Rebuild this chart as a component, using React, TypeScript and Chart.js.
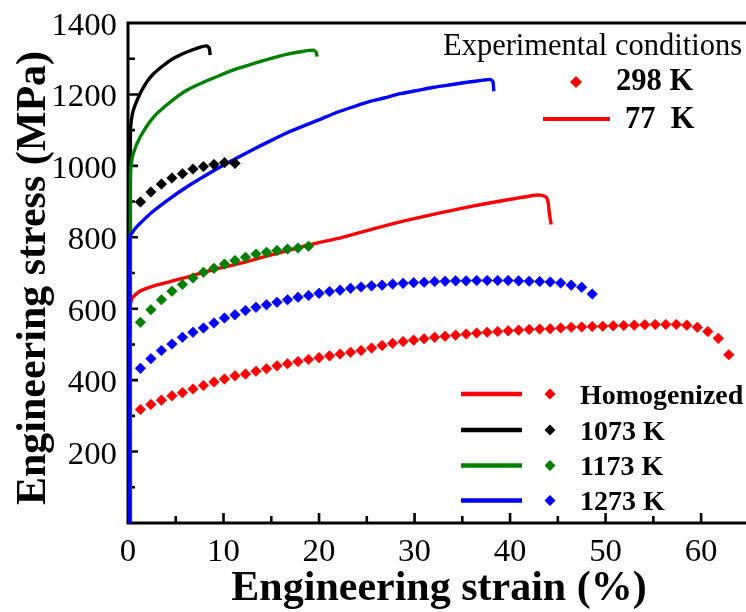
import React, { useEffect, useRef } from 'react';
import { Chart, registerables } from 'chart.js';
Chart.register(...registerables);

const W = 746;
const H = 612;

// ---- 298 K (diamonds) ----
const homoStrain = [1.3, 2.4, 3.5, 4.6, 5.7, 6.8, 7.9, 9.0, 10.1, 11.2, 12.3, 13.4, 14.5, 15.6, 16.7, 17.8, 18.9, 20.0, 21.1, 22.2, 23.3, 24.4, 25.5, 26.6, 27.7, 28.8, 29.9, 31.0, 32.1, 33.2, 34.3, 35.4, 36.5, 37.6, 38.7, 39.8, 40.9, 42.0, 43.1, 44.2, 45.3, 46.4, 47.5, 48.6, 49.7, 50.8, 51.9, 53.0, 54.1, 55.2, 56.3, 57.4, 58.5, 59.6, 60.7, 61.8, 62.9];
const homoStress = [318, 332, 344, 356, 365, 375, 385, 395, 403, 412, 417, 425, 432, 440, 446, 452, 458, 463, 468, 473, 478, 483, 490, 497, 503, 508, 512, 516, 520, 523, 526, 529, 532, 534, 536, 538, 540, 542, 543, 544, 546, 548, 549, 550, 551, 552, 553, 554, 555, 556, 556, 556, 554, 548, 536, 517, 471];

const k1073Strain = [1.3, 2.4, 3.5, 4.6, 5.7, 6.8, 7.9, 9.0, 10.1, 11.2];
const k1073Stress = [899, 927, 949, 966, 978, 991, 998, 1004, 1009, 1007];

const k1173Strain = [1.3, 2.4, 3.5, 4.6, 5.7, 6.8, 7.9, 9.0, 10.1, 11.2, 12.3, 13.4, 14.5, 15.6, 16.7, 17.8, 18.9];
const k1173Stress = [562, 597, 625, 649, 668, 686, 702, 713, 725, 735, 744, 753, 758, 763, 767, 770, 775];

const k1273Strain = [1.3, 2.4, 3.5, 4.6, 5.7, 6.8, 7.9, 9.0, 10.1, 11.2, 12.3, 13.4, 14.5, 15.6, 16.7, 17.8, 18.9, 20.0, 21.1, 22.2, 23.3, 24.4, 25.5, 26.6, 27.7, 28.8, 29.9, 31.0, 32.1, 33.2, 34.3, 35.4, 36.5, 37.6, 38.7, 39.8, 40.9, 42.0, 43.1, 44.2, 45.3, 46.4, 47.5, 48.6];
const k1273Stress = [433, 460, 483, 501, 520, 534, 546, 560, 574, 583, 595, 604, 611, 618, 625, 632, 637, 643, 648, 652, 657, 661, 664, 666, 669, 671, 673, 674, 676, 677, 678, 678, 679, 679, 679, 679, 678, 677, 676, 675, 672, 666, 660, 641];

// ---- 77 K (lines) ----
const homoLineStrain = [0.2, 0.2, 0.4, 0.8, 1.3, 2.7, 4.4, 6.1, 7.9, 9.6, 11.4, 13.1, 14.9, 16.6, 18.4, 20.1, 21.9, 25.3, 28.8, 32.3, 35.8, 39.3, 42.4, 43.2, 43.8, 44.0, 44.1, 44.3];
const homoLineStress = [0, 600, 628, 640, 650, 664, 676, 688, 702, 714, 725, 737, 750, 762, 775, 786, 796, 821, 845, 866, 886, 903, 917, 918, 912, 895, 870, 836];

const k1073LineStrain = [0.25, 0.25, 0.3, 0.55, 1.26, 1.95, 2.65, 3.7, 4.7, 6.1, 7.5, 8.2, 8.5, 8.6];
const k1073LineStress = [0, 1080, 1115, 1155, 1202, 1234, 1257, 1281, 1300, 1318, 1332, 1336, 1330, 1310];

const k1173LineStrain = [0.25, 0.25, 0.3, 0.55, 1.26, 2.65, 4.4, 6.1, 7.9, 9.6, 11.4, 13.1, 14.9, 16.6, 18.4, 19.4, 19.7, 19.8];
const k1173LineStress = [0, 950, 995, 1034, 1080, 1136, 1178, 1211, 1234, 1253, 1272, 1286, 1300, 1312, 1321, 1324, 1318, 1306];

const k1273LineStrain = [0.18, 0.18, 0.5, 0.8, 1.3, 2.6, 4.2, 6.1, 7.8, 9.6, 11.4, 13.1, 14.9, 16.6, 18.4, 20.1, 21.5, 23.2, 25.0, 26.8, 28.5, 30.3, 32.0, 33.8, 35.5, 37.2, 37.9, 38.2, 38.3];
const k1273LineStress = [0, 800, 815, 826, 840, 872, 905, 940, 968, 996, 1022, 1046, 1070, 1092, 1112, 1130, 1146, 1162, 1178, 1190, 1202, 1211, 1220, 1227, 1234, 1240, 1242, 1236, 1209];

// ---- axes ----
const xTickLabels = [0, 10, 20, 30, 40, 50, 60];
const xMinorTicks = [5, 15, 25, 35, 45, 55];
const yTickLabels = [200, 400, 600, 800, 1000, 1200, 1400];
const yMinorTicks = [100, 300, 500, 700, 900, 1100, 1300];

const legendNames = ['Homogenized', '1073 K', '1173 K', '1273 K'];
const legendColors = ['#ff0000', '#000000', '#008000', '#0000ff'];

const SERIF = '"Liberation Serif", "Times New Roman", serif';

function pts(xs: number[], ys: number[]) {
  return xs.map((x, i) => ({ x, y: ys[i] }));
}

function diamond(ctx: CanvasRenderingContext2D, x: number, y: number, r: number, color: string) {
  ctx.beginPath();
  ctx.moveTo(x - r, y);
  ctx.lineTo(x, y - r);
  ctx.lineTo(x + r, y);
  ctx.lineTo(x, y + r);
  ctx.closePath();
  ctx.fillStyle = color;
  ctx.fill();
}

function stretchedText(ctx: CanvasRenderingContext2D, text: string, x: number, y: number, sx: number) {
  ctx.save();
  ctx.translate(x, y);
  ctx.scale(sx, 1);
  ctx.fillText(text, 0, 0);
  ctx.restore();
}

const decorPlugin = {
  id: 'decor',
  beforeDatasetsDraw(chart: any) {
    const { ctx, chartArea: a, scales } = chart;
    const xs = scales.x;
    const ys = scales.y;
    ctx.save();
    ctx.strokeStyle = '#000';
    ctx.lineWidth = 3;
    ctx.beginPath();
    ctx.moveTo(a.left - 1.5, a.top);
    ctx.lineTo(W, a.top);
    ctx.moveTo(a.left, a.top);
    ctx.lineTo(a.left, a.bottom);
    ctx.moveTo(a.left - 1.5, a.bottom);
    ctx.lineTo(W, a.bottom);
    ctx.stroke();
    ctx.lineWidth = 2.6;
    ctx.beginPath();
    xTickLabels.forEach((v) => {
      if (v === 0) return;
      const p = xs.getPixelForValue(v);
      ctx.moveTo(p, a.bottom);
      ctx.lineTo(p, a.bottom - 10);
    });
    xMinorTicks.forEach((v) => {
      const p = xs.getPixelForValue(v);
      ctx.moveTo(p, a.bottom);
      ctx.lineTo(p, a.bottom - 7);
    });
    yTickLabels.forEach((v) => {
      if (v === 1400) return;
      const p = ys.getPixelForValue(v);
      ctx.moveTo(a.left, p);
      ctx.lineTo(a.left + 10, p);
    });
    yMinorTicks.forEach((v) => {
      const p = ys.getPixelForValue(v);
      ctx.moveTo(a.left, p);
      ctx.lineTo(a.left + 7, p);
    });
    ctx.stroke();

    // tick labels
    ctx.fillStyle = '#000';
    ctx.font = `31px ${SERIF}`;
    ctx.textBaseline = 'alphabetic';
    ctx.textAlign = 'center';
    xTickLabels.forEach((v) => {
      stretchedText(ctx, String(v), xs.getPixelForValue(v), a.bottom + 38, 1.06);
    });
    ctx.textAlign = 'right';
    yTickLabels.forEach((v) => {
      stretchedText(ctx, String(v), a.left - 11, ys.getPixelForValue(v) + 12, 1.06);
    });
    ctx.restore();
  },
  afterDatasetsDraw(chart: any) {
    const { ctx } = chart;
    ctx.save();
    ctx.fillStyle = '#000';
    // axis titles
    ctx.font = `bold 42px ${SERIF}`;
    ctx.textAlign = 'center';
    ctx.textBaseline = 'alphabetic';
    ctx.fillText('Engineering strain (%)', 439, 600);
    ctx.save();
    ctx.translate(45, 278);
    ctx.rotate(-Math.PI / 2);
    ctx.fillText('Engineering stress (MPa)', 0, 0);
    ctx.restore();

    // top legend
    ctx.textAlign = 'left';
    ctx.font = `30.5px ${SERIF}`;
    ctx.fillText('Experimental conditions', 443, 55);
    diamond(ctx, 576, 82, 6, '#ff0000');
    ctx.font = `bold 30.5px ${SERIF}`;
    ctx.fillStyle = '#000';
    ctx.fillText('298 K', 616, 90);
    ctx.strokeStyle = '#ff0000';
    ctx.lineWidth = 4;
    ctx.beginPath();
    ctx.moveTo(543, 119);
    ctx.lineTo(610, 119);
    ctx.stroke();
    ctx.fillText('77  K', 625, 128);

    // bottom legend
    const rows = [394, 430, 465.5, 500.5];
    ctx.font = `bold 28px ${SERIF}`;
    legendNames.forEach((name, i) => {
      const y = rows[i];
      ctx.strokeStyle = legendColors[i];
      ctx.lineWidth = 4.5;
      ctx.beginPath();
      ctx.moveTo(461, y);
      ctx.lineTo(522, y);
      ctx.stroke();
      diamond(ctx, 550, y, 5.5, legendColors[i]);
      ctx.fillStyle = '#000';
      ctx.fillText(name, 580, y + 9.5);
    });
    ctx.restore();
  },
};

export default function App() {
  const ref = useRef<HTMLCanvasElement>(null);
  useEffect(() => {
    const lineDs = (label: string, xs: number[], ys: number[], color: string, order: number) => ({
      label,
      data: pts(xs, ys),
      showLine: true,
      borderColor: color,
      backgroundColor: color,
      borderWidth: 3.4,
      pointRadius: 0,
      tension: 0.2,
      fill: false,
      order,
    });
    const pointDs = (label: string, xs: number[], ys: number[], color: string) => ({
      label,
      data: pts(xs, ys),
      showLine: false,
      borderColor: color,
      backgroundColor: color,
      pointStyle: 'rectRot',
      pointRadius: 5.3,
      pointBorderWidth: 0.6,
      order: 0,
    });
    const chart = new Chart(ref.current!, {
      type: 'scatter',
      data: {
        datasets: [
          pointDs('Homogenized 298 K', homoStrain, homoStress, '#ff0000'),
          pointDs('1073 K 298 K', k1073Strain, k1073Stress, '#000000'),
          pointDs('1173 K 298 K', k1173Strain, k1173Stress, '#008000'),
          pointDs('1273 K 298 K', k1273Strain, k1273Stress, '#0000ff'),
          lineDs('1273 K 77 K', k1273LineStrain, k1273LineStress, '#0000ff', 1),
          lineDs('1173 K 77 K', k1173LineStrain, k1173LineStress, '#008000', 2),
          lineDs('1073 K 77 K', k1073LineStrain, k1073LineStress, '#000000', 3),
          lineDs('Homogenized 77 K', homoLineStrain, homoLineStress, '#ff0000', 4),
        ] as any,
      },
      options: {
        animation: false,
        responsive: false,
        devicePixelRatio: 1,
        layout: { autoPadding: false, padding: { top: 23, right: 0, left: 0, bottom: 0 } },
        plugins: { legend: { display: false }, tooltip: { enabled: false } },
        scales: {
          x: {
            type: 'linear',
            min: 0,
            max: 64.7,
            grid: { display: false },
            border: { display: false },
            ticks: { display: false, stepSize: 10, includeBounds: false },
            afterFit: (s: any) => {
              s.height = 89;
            },
          },
          y: {
            type: 'linear',
            min: 0,
            max: 1400,
            grid: { display: false },
            border: { display: false },
            ticks: { display: false, stepSize: 200 },
            afterFit: (s: any) => {
              s.width = 128;
            },
          },
        },
      } as any,
      plugins: [decorPlugin],
    });
    return () => chart.destroy();
  }, []);
  return (
    <div style={{ position: 'absolute', left: 0, top: 0, width: W, height: H, background: '#fff' }}>
      <canvas ref={ref} width={W} height={H} style={{ display: 'block', width: W, height: H }} />
    </div>
  );
}
